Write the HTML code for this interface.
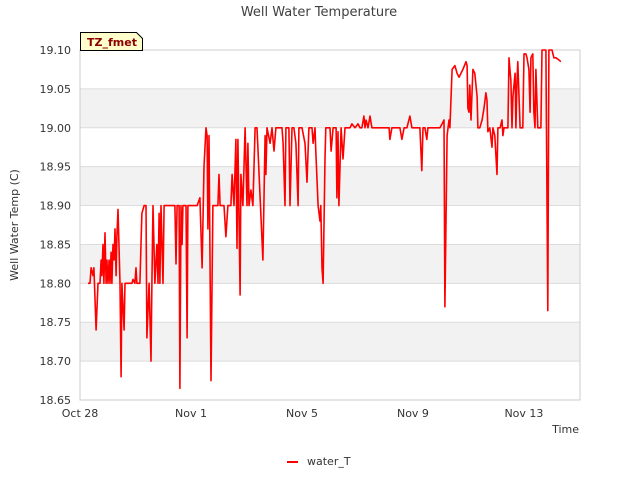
<!DOCTYPE html>
<html><head><meta charset="utf-8"><style>
body{margin:0;background:#fff;font-family:"Liberation Sans","DejaVu Sans",sans-serif}
svg text{font-family:"DejaVu Sans","Liberation Sans",sans-serif}
</style></head><body>
<svg id="chart" width="640" height="480" xmlns="http://www.w3.org/2000/svg">
<rect width="640" height="480" fill="#fff"/>
<text x="319" y="16" text-anchor="middle" font-size="13" fill="#404040">Well Water Temperature</text>
<g id="bands"></g>
<g id="grid"></g>
<rect x="80" y="50" width="500" height="350" fill="none" stroke="#ccc"/>
<g id="yticks"></g>
<g id="xticks"></g>
<text transform="translate(18,225) rotate(-90)" text-anchor="middle" font-size="11" fill="#333">Well Water Temp (C)</text>
<text x="579" y="433" text-anchor="end" font-size="11" fill="#333">Time</text>
<path id="series" fill="none" stroke="#ff0000" stroke-width="1.6" stroke-linejoin="round"/>
<g>
<path d="M80.5,32.5 H136.5 L142.5,38.5 V50.5 H80.5 Z" fill="#ffffcc" stroke="#000"/>
<text x="87" y="46" font-size="11" font-weight="bold" fill="#8b0000">TZ_fmet</text>
</g>
<g>
<line x1="287" y1="462" x2="298" y2="462" stroke="#ff0000" stroke-width="2"/>
<text x="307" y="465" font-size="11" fill="#333">water_T</text>
</g>
</svg>
<script>
const days=[0.29,0.36,0.40,0.47,0.50,0.58,0.65,0.72,0.76,0.79,0.83,0.86,0.90,0.94,0.97,1.01,1.05,1.08,1.12,1.15,1.19,1.23,1.26,1.30,1.33,1.37,1.44,1.48,1.51,1.59,1.62,1.69,1.87,1.91,1.98,2.02,2.05,2.16,2.20,2.23,2.31,2.38,2.41,2.49,2.56,2.59,2.63,2.70,2.77,2.81,2.85,2.88,2.92,2.99,3.03,3.14,3.24,3.42,3.46,3.50,3.57,3.60,3.64,3.68,3.71,3.82,3.86,3.89,4.04,4.11,4.22,4.32,4.40,4.47,4.54,4.58,4.61,4.65,4.72,4.79,4.86,4.97,5.01,5.05,5.19,5.26,5.33,5.44,5.48,5.55,5.62,5.66,5.69,5.77,5.80,5.87,5.95,6.02,6.05,6.09,6.16,6.23,6.31,6.38,6.59,6.67,6.70,6.74,6.85,6.92,6.99,7.06,7.21,7.28,7.32,7.39,7.42,7.53,7.57,7.64,7.71,7.78,7.86,7.89,8.00,8.11,8.18,8.25,8.36,8.40,8.47,8.50,8.58,8.65,8.68,8.72,8.76,8.83,8.86,9.01,9.05,9.12,9.23,9.26,9.30,9.33,9.41,9.48,9.55,9.73,9.80,9.91,10.02,10.09,10.16,10.23,10.27,10.31,10.38,10.45,10.52,10.81,10.99,11.14,11.17,11.24,11.35,11.46,11.53,11.60,11.68,11.78,11.89,11.96,12.07,12.25,12.32,12.36,12.43,12.50,12.54,12.61,12.79,12.97,13.05,13.12,13.15,13.23,13.30,13.33,13.41,13.51,13.59,13.66,13.73,13.80,13.91,13.95,13.98,14.02,14.05,14.09,14.16,14.23,14.31,14.34,14.41,14.49,14.56,14.63,14.67,14.70,14.77,14.85,14.88,14.95,15.03,15.06,15.14,15.21,15.24,15.28,15.42,15.46,15.53,15.57,15.60,15.68,15.71,15.75,15.78,15.86,15.96,16.00,16.07,16.11,16.18,16.22,16.25,16.32,16.36,16.40,16.43,16.50,16.61,16.65,16.76,16.79,16.86,16.90,17.01,17.08,17.15,17.23,17.33];
const temps=[18.80,18.80,18.82,18.81,18.82,18.74,18.80,18.80,18.83,18.81,18.85,18.80,18.865,18.80,18.83,18.80,18.83,18.80,18.84,18.80,18.85,18.83,18.87,18.81,18.86,18.895,18.80,18.68,18.80,18.74,18.80,18.80,18.80,18.805,18.80,18.82,18.80,18.80,18.85,18.89,18.90,18.90,18.73,18.80,18.70,18.80,18.90,18.80,18.85,18.80,18.89,18.80,18.90,18.80,18.90,18.90,18.90,18.90,18.825,18.90,18.90,18.665,18.90,18.85,18.90,18.90,18.73,18.90,18.90,18.90,18.90,18.91,18.82,18.95,19.00,18.99,18.87,18.99,18.675,18.90,18.90,18.90,18.94,18.90,18.90,18.86,18.90,18.90,18.94,18.90,18.985,18.845,18.985,18.785,18.94,18.90,19.00,18.90,18.98,18.90,18.92,18.90,19.00,19.00,18.83,18.99,18.94,19.00,18.98,19.00,18.97,19.00,19.00,19.00,18.98,18.90,19.00,19.00,18.90,19.00,19.00,18.98,18.90,19.00,19.00,18.98,18.93,19.00,19.00,18.98,19.00,18.97,18.90,18.88,18.90,18.82,18.80,18.96,19.00,19.00,18.97,19.00,19.00,18.91,18.995,18.90,19.00,18.96,19.00,19.00,19.005,19.00,19.005,19.00,19.00,19.015,19.00,19.01,19.00,19.015,19.00,19.00,19.00,19.00,18.985,19.00,19.00,19.00,19.00,18.985,19.00,19.00,19.015,19.00,19.00,19.00,18.945,19.00,19.00,18.985,19.00,19.00,19.00,19.00,19.005,19.01,18.77,18.99,19.01,19.00,19.075,19.08,19.07,19.065,19.07,19.075,19.085,19.08,19.025,19.02,19.055,19.01,19.075,19.07,19.04,19.00,19.00,19.01,19.025,19.045,19.035,18.995,19.00,18.975,19.00,18.99,18.94,19.00,19.00,19.01,18.99,19.00,19.00,19.09,19.06,19.00,19.04,19.07,19.00,19.06,19.085,19.00,19.00,19.095,19.095,19.09,19.075,19.02,19.09,19.095,19.02,19.00,19.075,19.00,19.00,19.10,19.10,19.10,18.765,19.10,19.10,19.09,19.09,19.088,19.085];
const yTicks=[18.65,18.70,18.75,18.80,18.85,18.90,18.95,19.00,19.05,19.10];
const xTickDays=[0,4,8,12,16];
const xTickLabels=["Oct 28","Nov 1","Nov 5","Nov 9","Nov 13"];
const X0=80,X1=580,Y0=400,Y1=50,DMAX=18.02,VMIN=18.65,VMAX=19.10;
const sx=d=>X0+(d/DMAX)*(X1-X0);
const sy=v=>Y0-(v-VMIN)/(VMAX-VMIN)*(Y0-Y1);
const NS="http://www.w3.org/2000/svg";
const bands=document.getElementById('bands'),grid=document.getElementById('grid'),yt=document.getElementById('yticks'),xt=document.getElementById('xticks');
for(let i=0;i<yTicks.length-1;i++){
  if(i%2===1){
    const r=document.createElementNS(NS,'rect');
    
    
    r.setAttribute('x',X0);r.setAttribute('width',X1-X0);
    r.setAttribute('y',sy(yTicks[i+1]));r.setAttribute('height',sy(yTicks[i])-sy(yTicks[i+1]));
    r.setAttribute('fill','#f2f2f2');bands.appendChild(r);
  }
}
yTicks.forEach(v=>{
  const l=document.createElementNS(NS,'line');
  
  
  l.setAttribute('x1',X0);l.setAttribute('x2',X1);l.setAttribute('y1',sy(v));l.setAttribute('y2',sy(v));
  l.setAttribute('stroke','#dcdcdc');grid.appendChild(l);
  const t=document.createElementNS(NS,'text');
  
  
  t.setAttribute('x',X0-9);t.setAttribute('y',sy(v)+4);t.setAttribute('text-anchor','end');
  t.setAttribute('font-size','11');t.setAttribute('fill','#333');t.textContent=v.toFixed(2);yt.appendChild(t);
});
xTickDays.forEach((d,i)=>{
  const t=document.createElementNS(NS,'text');
  
  
  t.setAttribute('x',sx(d));t.setAttribute('y',Y0+17);t.setAttribute('text-anchor','middle');
  t.setAttribute('font-size','11');t.setAttribute('fill','#333');t.textContent=xTickLabels[i];xt.appendChild(t);
});
document.getElementById('series').setAttribute('d',days.map((d,i)=>(i?'L':'M')+sx(d).toFixed(1)+','+sy(temps[i]).toFixed(1)).join(''));
</script>
</body></html>
